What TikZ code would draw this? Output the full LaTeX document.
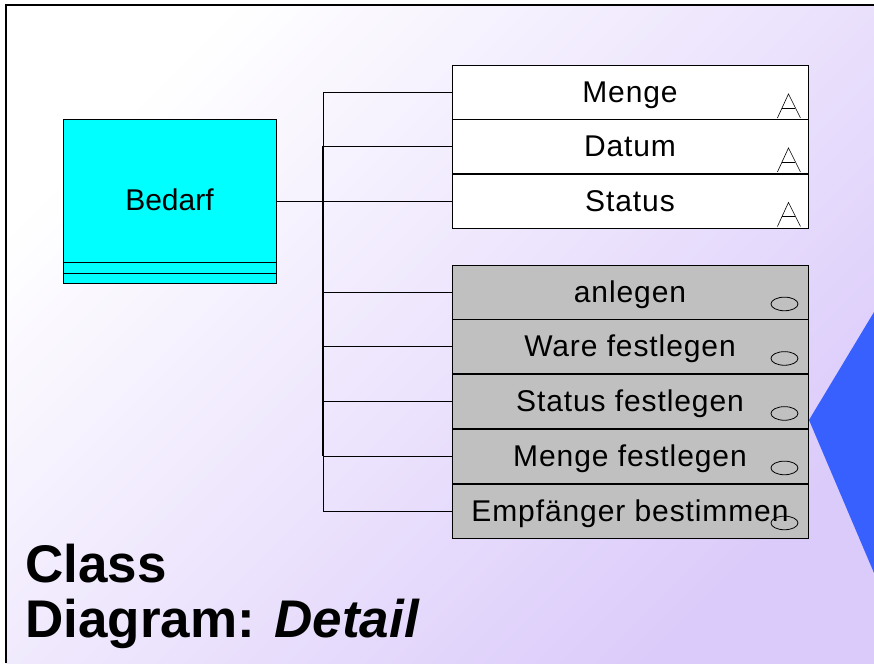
\documentclass[tikz,border=0pt]{standalone}
\usepackage{fontspec}
\setmainfont{Liberation Sans}
\usetikzlibrary{calc}
\definecolor{lavmid}{RGB}{237,229,253}
\definecolor{lavdeep}{RGB}{219,203,250}
\definecolor{wedge}{RGB}{56,96,255}
\definecolor{opgray}{RGB}{192,192,192}
\definecolor{classcyan}{RGB}{0,255,255}
\newfontfamily\boxfont[LetterSpace=3]{Liberation Sans}
\tikzset{
  attrbox/.style={draw=black, line width=0.9pt, fill=white, rectangle, inner sep=0pt,
    minimum width=356pt, minimum height=54pt, text height=27pt, text depth=7pt,
    font=\boxfont\fontsize{30}{32}\selectfont},
  opbox/.style={attrbox, fill=opgray},
  classbox/.style={draw=black, line width=0.9pt, fill=classcyan, rectangle, inner sep=0pt,
    minimum width=213pt, minimum height=164pt, text height=27pt, text depth=8pt,
    font=\fontsize{30}{32}\selectfont},
  wire/.style={draw=black, line width=0.9pt},
  busline/.style={draw=black, line width=1.6pt},
  vismark/.style={draw=black, line width=0.6pt},
  titletext/.style={anchor=base west, inner sep=0pt, font=\bfseries\fontsize{53}{55}\selectfont}
}
\begin{document}
\begin{tikzpicture}[x=1pt, y=-1pt]
\useasboundingbox (0,0) rectangle (874,663);
% background with soft diagonal shading inside the frame
\fill[white] (0,0) rectangle (874,663);
\shade[top color=white, bottom color=lavdeep, middle color=lavmid, shading angle=45]
  (6,5) rectangle (874,663);
% frame edges
\draw[line width=2.6pt, black] (6,663) -- (6,5) -- (874,5);
% blue wedge at the right edge
\fill[wedge] (809,420) -- (874,312) -- (874,573) -- cycle;

% class box
\node[classbox] (bedarf) at (169.5,201) {Bedarf};
\draw[black, line width=0.9pt] (bedarf.south west) ++(0,-21) -- ++(213,0);
\draw[black, line width=0.9pt] (bedarf.south west) ++(0,-10) -- ++(213,0);

% attributes
\node[attrbox] (a1) at (630,92.5) {Menge};
\node[attrbox] (a2) at (630,146.5) {Datum};
\node[attrbox] (a3) at (630,201) {Status};

% operations
\node[opbox] (o1) at (630,292) {anlegen};
\node[opbox] (o2) at (630,346.5) {Ware festlegen};
\node[opbox] (o3) at (630,401.5) {Status festlegen};
\node[opbox] (o4) at (630,456) {Menge festlegen};
\node[opbox] (o5) at (630,511) {Empfänger bestimmen};

% visibility marks
\foreach \n in {a1,a2,a3}{
  \draw[vismark] ($(\n.south east)+(-31,-2)$) -- ($(\n.south east)+(-20,-26)$) -- ($(\n.south east)+(-8,-2)$);
  \draw[vismark] ($(\n.south east)+(-26.4,-12)$) -- ($(\n.south east)+(-13,-12)$);
}
\foreach \n in {o1,o2,o3,o4,o5}{
  \draw[vismark, line width=0.8pt] ($(\n.south east)+(-24,-15.5)$) ellipse [x radius=13.5pt, y radius=6.8pt];
}

% connectors
\coordinate (bus) at (323,202);
\draw[wire] (bedarf.east) -- (bedarf.east -| bus);
\draw[wire] (a1.west -| bus) -- (a2.west -| bus);
\draw[busline] (a2.west -| bus) -- (o4.west -| bus);
\draw[wire] (o4.west -| bus) -- (o5.west -| bus);
\foreach \n in {a1,a2,a3,o1,o2,o3,o4,o5}{
  \draw[wire] (\n.west -| bus) -- (\n.west);
}

% title
\node[titletext] (t1) at (25,582) {Class};
\node[titletext] (t2) at (25,637) {Diagram: \textit{Detail}};
\end{tikzpicture}
\end{document}
